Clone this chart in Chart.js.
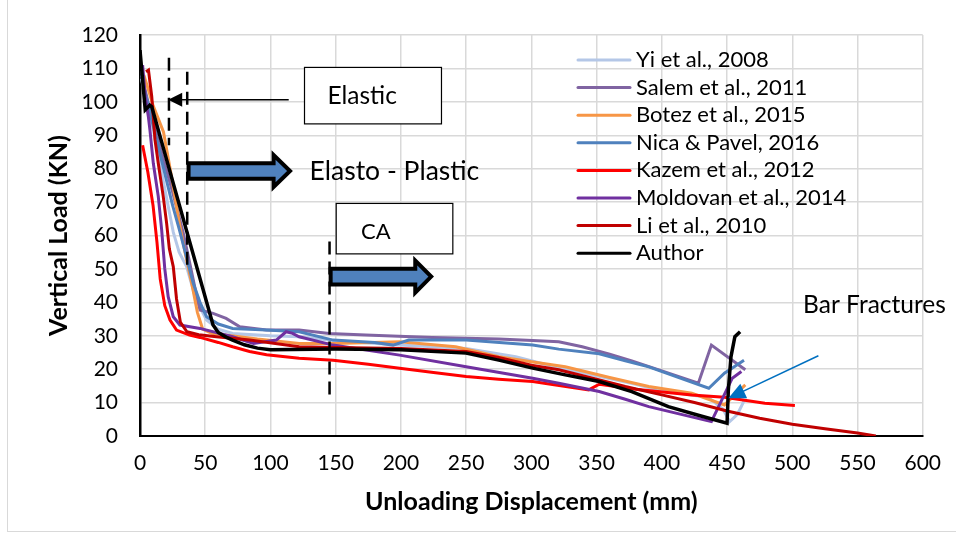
<!DOCTYPE html>
<html>
<head>
<meta charset="utf-8">
<script src="https://cdn.jsdelivr.net/npm/chart.js@4.4.1/dist/chart.umd.min.js"></script>
<style>
  html, body { margin: 0; padding: 0; background: #fff; }
  #wrap { position: relative; width: 956px; height: 538px; overflow: hidden; }
  #frame { position: absolute; left: 7px; top: -2px; width: 960px; height: 534px;
           border: 1px solid #d9d9d9; box-sizing: border-box; pointer-events: none; }
</style>
</head>
<body>
<div id="wrap">
  <canvas id="chart" width="956" height="538"></canvas>
  <div id="frame"></div>
</div>
<script>
// Load-displacement curves (x in mm, y in kN)
const seriesNames = ['Yi et al., 2008', 'Salem et al., 2011', 'Botez et al., 2015', 'Nica & Pavel, 2016',
                     'Kazem et al., 2012', 'Moldovan et al., 2014', 'Li et al., 2010', 'Author'];
const seriesColors = ['#b4c7e7', '#8064a2', '#f79646', '#4f81bd', '#ff0000', '#7030a0', '#c00000', '#000000'];

const yiX = [1, 5, 10, 15, 20, 25.5, 30, 35.7, 43, 51, 60, 71, 100, 122, 150, 199, 250, 288, 320, 350, 380, 400, 436, 447, 452, 458, 463];
const yiY = [107, 100, 92, 82, 72, 61, 55, 50.7, 40.7, 34.7, 32, 30.7, 30, 29.7, 28.5, 27.2, 26.2, 23.7, 20.5, 18, 15.5, 13.5, 11.5, 8, 4.3, 6.5, 10.5];

const salemX = [0, 3, 8, 15, 25, 33, 38, 43, 46, 56, 66, 76.5, 97, 122, 145, 173, 224, 275, 301, 321, 339, 360, 377, 400, 428, 438, 464];
const salemY = [111.6, 105, 97, 87, 73, 61, 52, 42.7, 37.7, 36.7, 35.2, 32.7, 31.7, 31.7, 30.7, 30.2, 29.5, 29, 28.6, 28.2, 26.7, 24.5, 22.5, 19.5, 15.8, 27.2, 19.8];

const botezX = [3, 10, 18, 24, 30, 35, 40, 44, 48, 55, 70, 90, 122, 150, 199, 242, 275, 300, 326, 360, 390, 423, 448, 464];
const botezY = [108, 99, 91, 78, 64, 54, 45, 37, 32, 30.7, 30, 29, 27.7, 27.7, 28.2, 26.7, 23.7, 22.2, 20.7, 17.5, 14.8, 12.8, 9.3, 15.3];

const nicaX = [1, 5, 10, 15, 20, 25, 30, 36, 40.8, 46, 51, 60, 71, 97, 122, 148, 180, 194, 206, 250, 301, 321, 352, 372, 390, 436, 448, 463];
const nicaY = [108, 101, 93, 85, 77, 69, 62, 53, 45.7, 40, 35.7, 33.5, 32.2, 31.7, 31.2, 28.7, 28, 27.2, 28.7, 28.7, 27.2, 26, 24.6, 22.5, 20.7, 14.3, 18.8, 22.7];

const kazemX = [2, 6, 10, 13, 15.5, 19, 23, 28, 38, 46, 60, 71, 84, 97, 122, 148, 175, 199, 225, 250, 275, 301, 320, 344, 352, 380, 423, 448, 479, 502];
const kazemY = [87, 79, 69, 58, 47, 39, 34.7, 31.7, 30.2, 29.5, 28, 26.7, 25.3, 24.3, 23.3, 22.7, 21.5, 20.3, 19, 17.8, 17, 16.3, 15.2, 13.8, 15.5, 14, 12.3, 11.6, 9.8, 9.1];

const moldovanX = [2, 4, 6.4, 7.6, 10.2, 14, 16.6, 19, 21.6, 25.5, 30.6, 46, 71, 87, 104.5, 112, 117, 122, 148, 199, 250, 301, 321, 352, 372, 390, 438, 446, 454, 461];
const moldovanY = [111, 101.6, 95.6, 91.6, 81.6, 71.7, 61.7, 50, 41.7, 35.7, 33.2, 32.2, 29.7, 27.7, 28.7, 31.2, 30.7, 29.7, 27.2, 24.2, 20.7, 17.3, 15.8, 13.3, 11, 8.8, 4.3, 10.8, 17.3, 19.3];

const liX = [4.6, 6.5, 9, 11.5, 14, 17.8, 20.4, 22.5, 25.5, 28, 31, 36, 45, 58.6, 84, 122, 150, 200, 250, 275, 300, 321, 350, 372, 400, 425, 450, 475, 500, 525, 550, 564];
const liY = [109, 109.5, 101.6, 88.6, 81.6, 71.7, 63.7, 56, 50.7, 41, 34, 31.2, 30.3, 29.7, 28.7, 26.7, 26.5, 26.2, 25.3, 23.5, 21.2, 19.8, 17, 14.8, 12.3, 10, 7.5, 5.3, 3.5, 2.2, 0.9, 0];

const authorX = [0, 4, 7.5, 9, 56, 60, 66, 71, 80, 90, 100, 150, 200, 250, 275, 301, 326, 352, 377, 405, 430, 450, 451, 453, 456, 460];
const authorY = [115.5, 97.6, 99, 98.5, 33.2, 31, 29.6, 28.7, 27.3, 26.3, 25.8, 26, 25.8, 24.8, 22.7, 20.3, 18.3, 16.3, 13.3, 8.8, 6, 3.8, 13.8, 23.7, 29.7, 31.2];

const xTicksMax = 600, xStep = 50;
const yTicksMax = 120, yStep = 10;

const seriesX = [yiX, salemX, botezX, nicaX, kazemX, moldovanX, liX, authorX];
const seriesY = [yiY, salemY, botezY, nicaY, kazemY, moldovanY, liY, authorY];

const FONT = 'Lato, "DejaVu Sans", sans-serif';

function toPoints(xs, ys) {
    return xs.map((x, i) => ({ x: x, y: ys[i] }));
}

// dashed phase markers, arrows, boxes and the legend are painted on top
const annotations = {
    id: 'annotations',
    afterDatasetsDraw(chart) {
        const ctx = chart.ctx;
        const sx = chart.scales.x, sy = chart.scales.y;
        const X = v => sx.getPixelForValue(v);
        const Y = v => sy.getPixelForValue(v);

        ctx.save();

        // dashed vertical lines
        ctx.strokeStyle = '#000';
        ctx.lineWidth = 2.5;
        ctx.setLineDash([13, 7]);
        [[22.2, 113.2, 87], [36.2, 109, 50.6], [145.3, 58.2, 11.3]].forEach(d => {
            ctx.beginPath();
            ctx.moveTo(X(d[0]), Y(d[1]));
            ctx.lineTo(X(d[0]), Y(d[2]));
            ctx.stroke();
        });
        ctx.setLineDash([]);

        // text boxes
        ctx.fillStyle = '#fff';
        ctx.strokeStyle = '#000';
        ctx.lineWidth = 1.2;
        [[126.1, 231.1, 110.3, 93.4], [150.4, 239.8, 69.6, 54.5]].forEach(b => {
            const x0 = X(b[0]), x1 = X(b[1]), y0 = Y(b[2]), y1 = Y(b[3]);
            ctx.fillRect(x0, y0, x1 - x0, y1 - y0);
            ctx.strokeRect(x0, y0, x1 - x0, y1 - y0);
        });

        // thin arrow toward the elastic limit
        const ay = Y(100.6), ax0 = X(114), ax1 = X(21.6);
        ctx.lineWidth = 1.5;
        ctx.beginPath();
        ctx.moveTo(ax0, ay);
        ctx.lineTo(ax1 + 12, ay);
        ctx.stroke();
        ctx.fillStyle = '#000';
        ctx.beginPath();
        ctx.moveTo(ax1, ay);
        ctx.lineTo(ax1 + 14, ay - 7);
        ctx.lineTo(ax1 + 14, ay + 7);
        ctx.closePath();
        ctx.fill();

        // block arrows
        function blockArrow(x0v, xsv, xtv, yv) {
            const x0 = X(x0v) + 2, xs = X(xsv), xt = X(xtv) - 3, yc = Y(yv);
            const h1 = 7.8, h2 = 16;
            ctx.beginPath();
            ctx.moveTo(x0, yc - h1);
            ctx.lineTo(xs, yc - h1);
            ctx.lineTo(xs, yc - h2);
            ctx.lineTo(xt, yc);
            ctx.lineTo(xs, yc + h2);
            ctx.lineTo(xs, yc + h1);
            ctx.lineTo(x0, yc + h1);
            ctx.closePath();
            ctx.fillStyle = '#4f81bd';
            ctx.fill();
            ctx.lineWidth = 4;
            ctx.lineJoin = 'miter';
            ctx.strokeStyle = '#000';
            ctx.stroke();
        }
        blockArrow(35.7, 102.4, 117.3, 79.3);
        blockArrow(144.6, 211, 225.5, 47.7);

        // bar fracture pointer
        const bx0 = X(520), by0 = Y(24), bx1 = X(451), by1 = Y(11.3);
        const ang = Math.atan2(by1 - by0, bx1 - bx0);
        ctx.strokeStyle = '#0070c0';
        ctx.fillStyle = '#0070c0';
        ctx.lineWidth = 1.5;
        ctx.beginPath();
        ctx.moveTo(bx0, by0);
        ctx.lineTo(bx1 - 12 * Math.cos(ang), by1 - 12 * Math.sin(ang));
        ctx.stroke();
        ctx.beginPath();
        ctx.moveTo(bx1, by1);
        ctx.lineTo(bx1 - 17 * Math.cos(ang) + 8 * Math.sin(ang), by1 - 17 * Math.sin(ang) - 8 * Math.cos(ang));
        ctx.lineTo(bx1 - 17 * Math.cos(ang) - 8 * Math.sin(ang), by1 - 17 * Math.sin(ang) + 8 * Math.cos(ang));
        ctx.closePath();
        ctx.fill();

        // labels
        ctx.fillStyle = '#000';
        ctx.textBaseline = 'middle';
        ctx.textAlign = 'left';
        ctx.font = '24.5px ' + FONT;
        ctx.fillText('Elastic', X(143.7), Y(101.7));
        ctx.font = '26.5px ' + FONT;
        ctx.fillText('Elasto - Plastic', X(130), Y(79.3));
        ctx.font = '22px ' + FONT;
        ctx.fillText('CA', X(169.5), Y(61.2));
        ctx.font = '24.5px ' + FONT;
        ctx.fillText('Bar Fractures', X(508.3), Y(39.2));

        // legend
        ctx.font = '22px ' + FONT;
        seriesNames.forEach((name, i) => {
            const yy = 60 + i * 27.6;
            ctx.strokeStyle = seriesColors[i];
            ctx.lineWidth = 3;
            ctx.lineCap = 'round';
            ctx.beginPath();
            ctx.moveTo(578, yy);
            ctx.lineTo(630, yy);
            ctx.stroke();
            ctx.fillStyle = '#000';
            ctx.fillText(name, 636, yy);
        });

        ctx.restore();
    }
};

function drawChart() {
    const ctx = document.getElementById('chart').getContext('2d');
    const drawOrder = [7, 6, 5, 4, 3, 2, 1, 0];

    const datasets = seriesNames.map((name, i) => ({
        label: name,
        data: toPoints(seriesX[i], seriesY[i]),
        borderColor: seriesColors[i],
        backgroundColor: seriesColors[i],
        borderWidth: i === 7 ? 3.5 : 3,
        showLine: true,
        fill: false,
        tension: 0,
        pointRadius: 0,
        order: drawOrder[i]
    }));

    new Chart(ctx, {
        type: 'scatter',
        data: { datasets: datasets },
        plugins: [annotations],
        options: {
            responsive: false,
            animation: false,
            events: [],
            layout: {
                autoPadding: false,
                padding: { left: 0, top: 35, right: 31, bottom: 0 }
            },
            plugins: {
                legend: { display: false },
                tooltip: { enabled: false }
            },
            scales: {
                x: {
                    type: 'linear',
                    min: 0,
                    max: xTicksMax,
                    afterFit: s => { s.height = 102; },
                    ticks: { stepSize: xStep, color: '#000', padding: 15, maxRotation: 0,
                             font: { family: FONT, size: 21 } },
                    grid: { color: '#d9d9d9', lineWidth: 1.5, drawTicks: false },
                    border: { color: '#000', width: 2 },
                    title: { display: true, text: 'Unloading Displacement (mm)', color: '#000',
                             font: { family: FONT, size: 25, weight: 'bold' },
                             padding: { top: 0, bottom: 21 } }
                },
                y: {
                    min: 0,
                    max: yTicksMax,
                    afterFit: s => { s.width = 140; },
                    ticks: { stepSize: yStep, color: '#000', padding: 22,
                             font: { family: FONT, size: 21 } },
                    grid: { color: '#d9d9d9', lineWidth: 1.5, drawTicks: false },
                    border: { color: '#000', width: 2.5 },
                    title: { display: true, text: 'Vertical Load (KN)', color: '#000',
                             font: { family: FONT, size: 25, weight: 'bold' },
                             padding: { top: 44, bottom: 0 } }
                }
            }
        }
    });
}

Promise.all([
    document.fonts.load('21px Lato'),
    document.fonts.load('bold 25px Lato')
]).then(drawChart, drawChart);
</script>
</body>
</html>
